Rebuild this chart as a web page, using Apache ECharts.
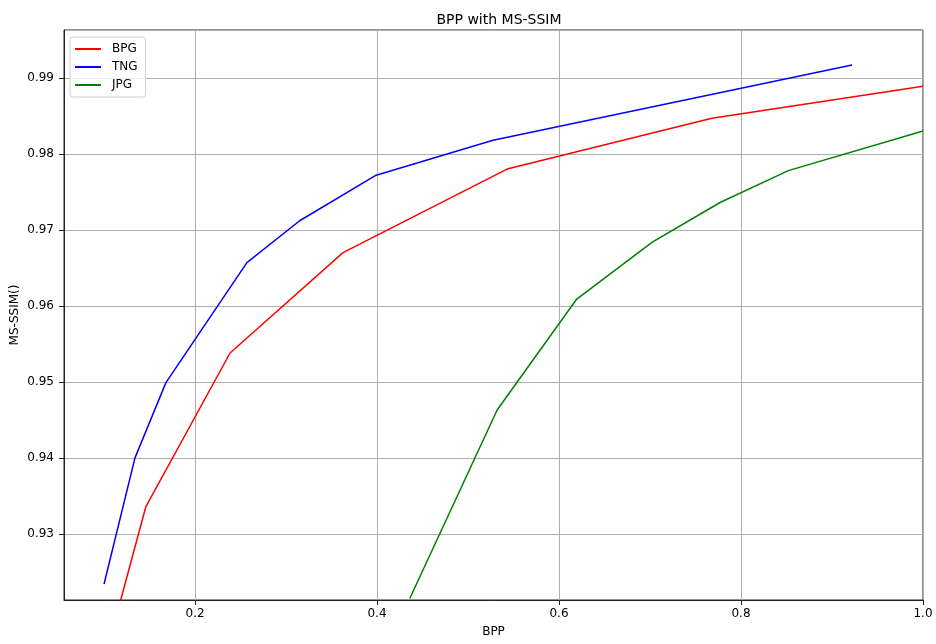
<!DOCTYPE html>
<html>
<head>
<meta charset="utf-8">
<script src="https://cdn.jsdelivr.net/npm/echarts@6/dist/echarts.min.js"></script>
<style>
  html, body { margin: 0; padding: 0; background: #fff; }
  #chart { width: 936px; height: 644px; }
</style>
</head>
<body>
<div id="chart"></div>
<script>
// values
const bpgBpp  = [0.1165, 0.146, 0.2385, 0.3626, 0.5429, 0.768, 1.0];
const bpgSsim = [0.9205, 0.9336, 0.9538, 0.9670, 0.9780, 0.9847, 0.9889];

const tngBpp  = [0.100, 0.134, 0.168, 0.257, 0.315, 0.399, 0.5275, 0.922];
const tngSsim = [0.9234, 0.9400, 0.9499, 0.9657, 0.9712, 0.9772, 0.9818, 0.9917];

const jpgBpp  = [0.436, 0.532, 0.6195, 0.7025, 0.777, 0.852, 1.0];
const jpgSsim = [0.9215, 0.9463, 0.9609, 0.9684, 0.9736, 0.9778, 0.9830];

const seriesNames = ['BPG', 'TNG', 'JPG'];
const seriesColors = ['#ff0000', '#0000ff', '#008000'];

function pairs(xs, ys) {
    return xs.map((x, i) => [x, ys[i]]);
}

const font = 'DejaVu Sans';
const allData = [pairs(bpgBpp, bpgSsim), pairs(tngBpp, tngSsim), pairs(jpgBpp, jpgSsim)];

const chart = echarts.init(document.getElementById('chart'));

chart.setOption({
    animation: false,
    textStyle: { fontFamily: font },
    title: {
        text: 'BPP with MS-SSIM',
        left: 494,
        textAlign: 'center',
        top: 8,
        textStyle: { fontFamily: font, fontSize: 14, fontWeight: 'normal', color: '#000' }
    },
    legend: {
        orient: 'vertical',
        left: 70,
        top: 37,
        padding: [6, 8, 6, 5],
        itemGap: 6,
        itemWidth: 26,
        itemHeight: 2,
        icon: 'rect',
        borderColor: '#d0d0d0',
        borderWidth: 1,
        borderRadius: 3,
        backgroundColor: 'rgba(255,255,255,0.8)',
        textStyle: { fontFamily: font, fontSize: 12, color: '#000', padding: [0, 0, 0, 6] },
        data: seriesNames
    },
    grid: {
        left: 64,
        right: 13,
        top: 30,
        bottom: 44,
        outerBoundsMode: 'none',
        containLabel: false,
        show: true,
        borderColor: '#222',
        borderWidth: 1
    },
    xAxis: {
        type: 'value',
        min: 0.056,
        max: 1.0,
        splitNumber: 5,
        name: 'BPP',
        nameLocation: 'middle',
        nameGap: 26,
        nameMoveOverlap: false,
        nameTextStyle: { fontFamily: font, fontSize: 12, color: '#000' },
        axisLine: { lineStyle: { color: '#222', width: 1 } },
        axisTick: { length: 5, lineStyle: { color: '#222' } },
        axisLabel: {
            showMinLabel: false,
            fontFamily: font, fontSize: 12, color: '#000', margin: 8,
            formatter: v => v.toFixed(1)
        },
        splitLine: { show: true, lineStyle: { color: '#b0b0b0', width: 1 } }
    },
    yAxis: {
        type: 'value',
        min: 0.9213,
        max: 0.9963,
        splitNumber: 8,
        name: 'MS-SSIM()',
        nameLocation: 'middle',
        nameGap: 43,
        nameMoveOverlap: false,
        nameTextStyle: { fontFamily: font, fontSize: 12, color: '#000' },
        axisLine: { show: true, lineStyle: { color: '#222', width: 1 } },
        axisTick: { show: true, length: 5, lineStyle: { color: '#222' } },
        axisLabel: {
            showMinLabel: false,
            showMaxLabel: false,
            fontFamily: font, fontSize: 12, color: '#000', margin: 10,
            formatter: v => v.toFixed(2)
        },
        splitLine: { show: true, lineStyle: { color: '#b0b0b0', width: 1 } }
    },
    series: seriesNames.map((name, i) => ({
        name: name,
        type: 'line',
        data: allData[i],
        showSymbol: false,
        symbol: 'none',
        clip: true,
        color: seriesColors[i],
        lineStyle: { color: seriesColors[i], width: 1.5 }
    }))
});
</script>
</body>
</html>
